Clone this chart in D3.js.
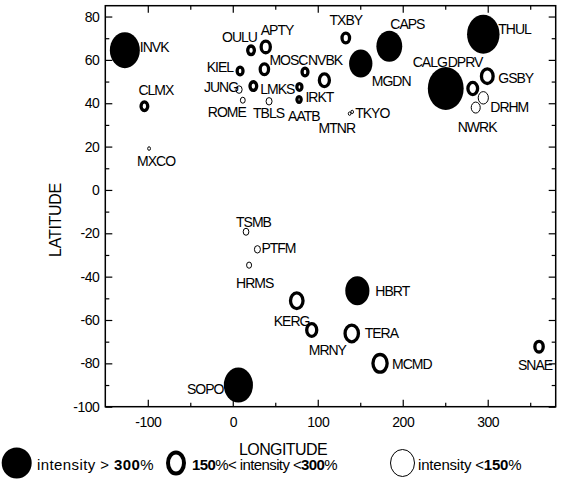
<!DOCTYPE html>
<html>
<head>
<meta charset="utf-8">
<script src="https://cdn.jsdelivr.net/npm/d3@7"></script>
<style>
  body { margin: 0; background: #fff; }
  svg { font-family: "Liberation Sans", Arial, sans-serif; }
  .tick text { font-size: 14px; letter-spacing: -0.5px; fill: #000; }
  .tick line { stroke: #000; stroke-width: 1.2; }
  .stn { font-size: 14px; letter-spacing: -1px; fill: #000; }
</style>
</head>
<body>
<svg id="chart" width="575" height="492"></svg>
<script>
// Station data
var stations = ['INVK','CLMX','MXCO','KIEL','OULU','APTY','MOSC','JUNG','LMKS','ROME',
                'TBLS','NVBK','','IRKT','AATB','TXBY','CAPS','MGDN','THUL','CALG',
                'DPRV','GSBY','DRHM','NWRK','TKYO','MTNR','TSMB','PTFM','HRMS','HBRT',
                'KERG','MRNY','TERA','MCMD','SNAE','SOPO'];
var longitude = [-127, -104, -98.5, 8.6, 21.5, 38.8, 37.2, 7.4, 24.2, 11.8,
                 42.7, 85, 107.8, 78.4, 78, 133, 184.2, 150.6, 294.8, 250.6,
                 282.4, 299.5, 294.8, 285.9, 140.5, 137.5, 15.6, 29, 19.2, 146.6,
                 75.3, 92.9, 140, 173.3, 360.4, 6.6];
var latitude = [64.5, 38.6, 19.1, 54.9, 64.4, 66, 55.7, 46.3, 47.9, 41.4,
                40.9, 54.4, 50.6, 47.5, 41.7, 70.1, 66.3, 58.3, 71.8, 46.8,
                46.8, 52.5, 42.5, 38, 36, 35.2, -19.3, -27.4, -34.7, -46.5,
                -51.1, -64.6, -66.2, -80, -72.3, -90];
// intensity class: 'hi' > 300%, 'mid' 150-300%, 'lo' < 150%
var intensity = ['hi','mid','lo','mid','mid','mid','mid','lo','mid','lo',
                 'lo','mid','mid','mid','mid','mid','hi','hi','hi','hi',
                 'mid','mid','lo','lo','lo','lo','lo','lo','lo','hi',
                 'mid','mid','mid','mid','mid','hi'];
var markerSize = [18, 6, 2.3, 5.5, 6, 7.5, 7, 4.3, 6, 3.5,
                  4.2, 5.5, 8, 5, 4.5, 6.5, 15.5, 14, 19.5, 21.5,
                  7.8, 9, 6.7, 6, 2.2, 2.2, 4, 4.2, 3.6, 14.5,
                  9.5, 8, 10, 10.5, 7, 17.5];
var xMajor = [-100, 0, 100, 200, 300];
var xMinor = [-50, 50, 150, 250, 350];
var yMajor = [-100, -80, -60, -40, -20, 0, 20, 40, 60, 80];
var yMinor = [-90, -70, -50, -30, -10, 10, 30, 50, 70];

// label placement (px offsets from the marker, text anchor)
var labelPos = {
  INVK: [15, 2, 'start'], CLMX: [-6, -11, 'start'], MXCO: [-12, 17, 'start'],
  KIEL: [-7, 1, 'end'], OULU: [-29, -8, 'start'], APTY: [-5, -12, 'start'],
  MOSC: [5, -4, 'start'], JUNG: [-1, 2, 'end'], LMKS: [7, 8, 'start'],
  ROME: [-35, 17, 'start'], TBLS: [-16, 17, 'start'], NVBK: [3, -7, 'start'],
  IRKT: [6, 15, 'start'], AATB: [-11, 21, 'start'], TXBY: [0, -13, 'middle'],
  CAPS: [1, -17, 'start'], MGDN: [11, 22, 'start'], THUL: [15, 0, 'start'],
  CALG: [-33, -22, 'start'], DPRV: [-25, -22, 'start'], GSBY: [11, 7, 'start'],
  DRHM: [7, 14, 'start'], NWRK: [-18, 24, 'start'], TKYO: [3, 6, 'start'],
  MTNR: [-31, 19, 'start'], TSMB: [-10, -5, 'start'], PTFM: [4, 4, 'start'],
  HRMS: [-13, 23, 'start'], HBRT: [18, 5, 'start'], KERG: [-23, 25, 'start'],
  MRNY: [-3, 25, 'start'], TERA: [13, 5, 'start'], MCMD: [12, 6, 'start'],
  SNAE: [-4, 23, 'middle'], SOPO: [-15, 9, 'end']
};

var svg = d3.select('#chart');
var plotLeft = 105.3, plotRight = 555.7, plotTop = 5.7, plotBottom = 406.7;

var x = d3.scaleLinear().domain([-150, 380]).range([plotLeft, plotRight]);
var y = d3.scaleLinear().domain([-100, 85]).range([plotBottom, plotTop]);
var r = d3.scaleLinear().domain([0, 20]).range([0, 20]);
var fmt = function(d) { return String(d); };  // plain hyphen minus

// Axes with inward ticks on all four sides
function addAxis(axis, tx, ty, labels) {
  var g = svg.append('g').attr('transform', 'translate(' + tx + ',' + ty + ')').call(axis);
  g.select('.domain').remove();
  if (!labels) g.selectAll('text').remove();
  return g;
}
addAxis(d3.axisBottom(x).tickValues(xMajor).tickFormat(fmt).tickSize(-7).tickPadding(10), 0, plotBottom, true);
addAxis(d3.axisBottom(x).tickValues(xMinor).tickSize(-4), 0, plotBottom, false);
addAxis(d3.axisTop(x).tickValues(xMajor).tickSize(-7), 0, plotTop, false);
addAxis(d3.axisTop(x).tickValues(xMinor).tickSize(-4), 0, plotTop, false);
addAxis(d3.axisLeft(y).tickValues(yMajor).tickFormat(fmt).tickSize(-7).tickPadding(6), plotLeft, 0, true);
addAxis(d3.axisLeft(y).tickValues(yMinor).tickSize(-4), plotLeft, 0, false);
addAxis(d3.axisRight(y).tickValues(yMajor).tickSize(-7), plotRight, 0, false);
addAxis(d3.axisRight(y).tickValues(yMinor).tickSize(-4), plotRight, 0, false);

svg.append('rect')
   .attr('x', plotLeft).attr('y', plotTop)
   .attr('width', plotRight - plotLeft).attr('height', plotBottom - plotTop)
   .attr('fill', 'none').attr('stroke', '#000').attr('stroke-width', 1.5);

// Axis titles
svg.append('text')
   .attr('x', 283).attr('y', 455)
   .attr('text-anchor', 'middle')
   .style('font-size', '16px').style('letter-spacing', '-0.6px')
   .text('LONGITUDE');
svg.append('text')
   .attr('transform', 'translate(61,220) rotate(-90)')
   .attr('text-anchor', 'middle')
   .style('font-size', '16px').style('letter-spacing', '-0.3px')
   .text('LATITUDE');

// Markers
function markerStyle(sel, type) {
  if (type === 'hi') {
    sel.attr('fill', '#000').attr('stroke', 'none');
  } else if (type === 'mid') {
    sel.attr('fill', 'none').attr('stroke', '#000').attr('stroke-width', 3.3);
  } else {
    sel.attr('fill', 'none').attr('stroke', '#000').attr('stroke-width', 1);
  }
}

var pts = d3.range(stations.length);
var marks = svg.append('g');
pts.forEach(function(i) {
  var s = r(markerSize[i]);
  var inset = intensity[i] === 'mid' ? 1.65 : (intensity[i] === 'lo' ? 0.5 : 0);
  var e = marks.append('ellipse')
               .attr('cx', x(longitude[i]))
               .attr('cy', y(latitude[i]))
               .attr('rx', Math.max(s / 1.2 - inset, 0.8))
               .attr('ry', Math.max(s - inset, 0.8));
  markerStyle(e, intensity[i]);
});

// Station labels
var labels = svg.append('g');
pts.forEach(function(i) {
  var p = labelPos[stations[i]];
  if (!p) return;
  labels.append('text')
        .attr('class', 'stn')
        .attr('x', x(longitude[i]) + p[0])
        .attr('y', y(latitude[i]) + p[1])
        .attr('text-anchor', p[2])
        .text(stations[i]);
});

// Legend
var legend = svg.append('g').style('font-size', '15px');
var legendItems = [
  {type: 'hi', cx: 16.7, rx: 15, ry: 15.5, tx: 37, ls: 0.4, parts: [['intensity > ', false], ['300', true], ['%', false]]},
  {type: 'mid', cx: 176, rx: 10, ry: 12.5, tx: 192, ls: -0.6, parts: [['150', true], ['%< intensity <', false], ['300', true], ['%', false]]},
  {type: 'lo', cx: 402.5, rx: 12.5, ry: 14, tx: 418, ls: -0.2, parts: [['intensity <', false], ['150', true], ['%', false]]}
];
legendItems.forEach(function(d) {
  var inset = d.type === 'mid' ? 2 : (d.type === 'lo' ? 0.5 : 0);
  var e = legend.append('ellipse')
                .attr('cx', d.cx).attr('cy', 463)
                .attr('rx', d.rx - inset).attr('ry', d.ry - inset);
  markerStyle(e, d.type);
  if (d.type === 'mid') e.attr('stroke-width', 4);
  var t = legend.append('text').attr('x', d.tx).attr('y', 470).style('letter-spacing', d.ls + 'px');
  d.parts.forEach(function(p) {
    t.append('tspan').style('font-weight', p[1] ? 'bold' : 'normal').text(p[0]);
  });
});
</script>
</body>
</html>
